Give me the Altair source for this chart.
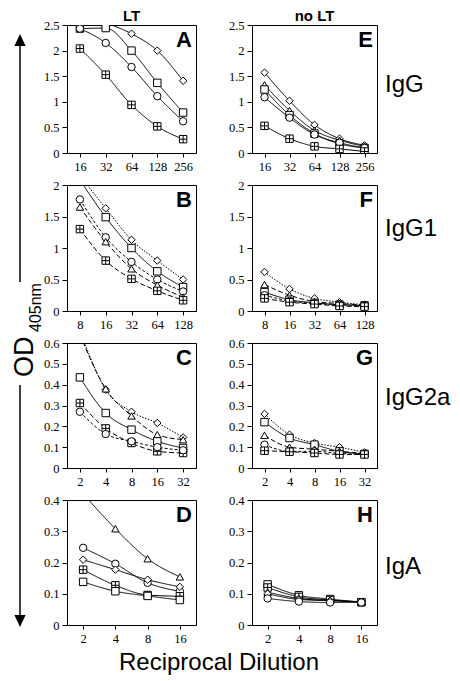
import altair as alt
import pandas as pd

# ---------------- data ----------------
SERIES = ["circle", "square", "diamond", "triangle", "xsquare"]
SHAPES = ["circle", "square", "diamond", "triangle-up",
          "M-1,-1H1V1H-1Z M0,-1V1 M-1,0H1"]
DASH_NAMES = ["solid", "dot", "dash", "dash2"]
DASH_RANGE = [[1, 0], [1.5, 1.5], [3, 2], [5, 2.5]]

X_IGG = ["16", "32", "64", "128", "256"]
X_IGG1 = ["8", "16", "32", "64", "128"]
X_IGG2A = ["2", "4", "8", "16", "32"]
X_IGA = ["2", "4", "8", "16"]

# A: LT, IgG
A_diamond = [2.80, 2.55, 2.33, 2.00, 1.41]
A_square = [2.43, 2.44, 2.00, 1.37, 0.79]
A_circle = [2.43, 2.15, 1.68, 1.11, 0.62]
A_xsquare = [2.04, 1.53, 0.94, 0.52, 0.27]
# E: no LT, IgG
E_diamond = [1.57, 1.02, 0.55, 0.28, 0.15]
E_triangle = [1.33, 0.83, 0.44, 0.25, 0.13]
E_square = [1.24, 0.74, 0.38, 0.18, 0.10]
E_circle = [1.09, 0.69, 0.36, 0.20, 0.10]
E_xsquare = [0.53, 0.28, 0.13, 0.08, 0.03]
# B: LT, IgG1
B_diamond = [2.15, 1.63, 1.13, 0.80, 0.50]
B_square = [2.08, 1.49, 1.00, 0.63, 0.38]
B_circle = [1.77, 1.17, 0.78, 0.50, 0.31]
B_triangle = [1.65, 1.10, 0.67, 0.41, 0.22]
B_xsquare = [1.30, 0.80, 0.51, 0.32, 0.17]
# F: no LT, IgG1
F_diamond = [0.62, 0.35, 0.20, 0.14, 0.10]
F_triangle = [0.42, 0.25, 0.15, 0.12, 0.09]
F_square = [0.30, 0.18, 0.13, 0.10, 0.09]
F_circle = [0.25, 0.16, 0.12, 0.10, 0.08]
F_xsquare = [0.20, 0.14, 0.11, 0.08, 0.07]
# C: LT, IgG2a
C_diamond = [0.66, 0.376, 0.27, 0.216, 0.147]
C_triangle = [0.64, 0.38, 0.25, 0.16, 0.136]
C_square = [0.435, 0.264, 0.184, 0.128, 0.096]
C_xsquare = [0.312, 0.19, 0.12, 0.08, 0.072]
C_circle = [0.27, 0.163, 0.128, 0.10, 0.085]
# G: no LT, IgG2a
G_diamond = [0.26, 0.16, 0.12, 0.10, 0.075]
G_square = [0.22, 0.144, 0.112, 0.08, 0.068]
G_triangle = [0.157, 0.10, 0.09, 0.08, 0.07]
G_circle = [0.112, 0.08, 0.08, 0.07, 0.065]
G_xsquare = [0.083, 0.078, 0.072, 0.065, 0.065]
# D: LT, IgA
D_triangle = [0.42, 0.308, 0.212, 0.154]
D_circle = [0.247, 0.196, 0.135, 0.108]
D_diamond = [0.209, 0.177, 0.145, 0.122]
D_xsquare = [0.177, 0.127, 0.096, 0.092]
D_square = [0.138, 0.108, 0.093, 0.080]
# H: no LT, IgA
H_square = [0.13, 0.095, 0.083, 0.073]
H_xsquare = [0.12, 0.09, 0.08, 0.073]
H_triangle = [0.105, 0.085, 0.078, 0.075]
H_diamond = [0.10, 0.082, 0.078, 0.074]
H_circle = [0.085, 0.075, 0.072, 0.072]

Y_25 = [0, 0.5, 1, 1.5, 2, 2.5]
Y_2 = [0, 0.5, 1, 1.5, 2]
Y_06 = [0, 0.1, 0.2, 0.3, 0.4, 0.5, 0.6]
Y_04 = [0, 0.1, 0.2, 0.3, 0.4]

SANS = "Liberation Sans, Arial, Helvetica, sans-serif"
SERIF = "Liberation Serif, Times New Roman, DejaVu Serif, serif"
W1, W2 = 129, 125


def txt(t, x, y, size, weight="normal", angle=0, align="left", baseline="alphabetic",
        font=SANS):
    kw = dict(align=align, baseline=baseline, fontSize=size, fontWeight=weight,
              font=font, color="black")
    if angle:
        kw["angle"] = angle
    return alt.Chart(pd.DataFrame({"t": [t]})).mark_text(**kw).encode(
        text="t:N", x=alt.value(x), y=alt.value(y))


def panel(letter, xcats, series, dashes, ytop, yticks, w, h, extras=()):
    rows = []
    for s, vals in series.items():
        for i, (xv, v) in enumerate(zip(xcats, vals)):
            rows.append({"dil": xv, "od": v, "series": s, "dash": dashes[s], "idx": i})
    df = pd.DataFrame(rows)
    X = alt.X("dil:O", scale=alt.Scale(type="point", padding=0.5, domain=xcats),
              axis=alt.Axis(title=None, labelAngle=0, tickSize=4, labelPadding=3,
                            labelFont=SERIF, labelFontSize=12.5, labelColor="black",
                            domainColor="black", tickColor="black"))
    Y = alt.Y("od:Q", scale=alt.Scale(domain=[0, ytop], nice=False, zero=True),
              axis=alt.Axis(title=None, values=yticks, format="~g", tickSize=5,
                            labelPadding=3, labelFont=SERIF, labelFontSize=12.5,
                            labelColor="black", domainColor="black", tickColor="black"))
    base = alt.Chart(df)
    lines = base.mark_line(interpolate="monotone", clip=True, color="black",
                           strokeWidth=1).encode(
        x=X, y=Y, detail="series:N",
        strokeDash=alt.StrokeDash("dash:N", scale=alt.Scale(domain=DASH_NAMES, range=DASH_RANGE),
                                  legend=None),
        order=alt.Order("idx:Q"))
    pts = base.mark_point(filled=True, fill="white", stroke="black", strokeWidth=1,
                          size=55, opacity=1, clip=True).encode(
        x=X, y=Y,
        shape=alt.Shape("series:N", scale=alt.Scale(domain=SERIES, range=SHAPES), legend=None))
    lab = txt(letter, w - 4, 22, 22, weight="bold", align="right")
    return alt.layer(lines, pts, lab, *extras).properties(width=w, height=h)


solid = lambda names: {n: "solid" for n in names}

# extras for panel A: column title, y-axis label and arrows
up = "M0,-1L0.7,0.5L-0.7,0.5Z"
down = "M0,1L0.7,-0.5L-0.7,-0.5Z"


def rule(x, y1, y2, opacity=1):
    return alt.Chart(pd.DataFrame({"a": [0]})).mark_rule(
        color="black", strokeWidth=1.5, opacity=opacity).encode(
        x=alt.value(x), y=alt.value(y1), y2=alt.value(y2))


def head(x, y, shape):
    return alt.Chart(pd.DataFrame({"a": [0]})).mark_point(
        shape=shape, filled=True, color="black", size=256, opacity=1).encode(
        x=alt.value(x), y=alt.value(y))


A_extras = [
    txt("LT", W1 / 2, -4, 15, weight="bold", align="center"),
    rule(-58.2, 300, 301, opacity=0),
    rule(-47, 18, 257), rule(-47, 360, 594),
    head(-47, 17, up), head(-47, 594, down),
    txt("OD", -34, 352, 27, angle=270),
    txt("405nm", -26, 307, 16, angle=270),
]

pA = panel("A", X_IGG, {"diamond": A_diamond, "square": A_square, "circle": A_circle,
                        "xsquare": A_xsquare},
           solid(["diamond", "square", "circle", "xsquare"]), 2.5, Y_25, W1, 128, A_extras)
pE = panel("E", X_IGG, {"diamond": E_diamond, "triangle": E_triangle, "square": E_square,
                        "circle": E_circle, "xsquare": E_xsquare},
           solid(SERIES), 2.5, Y_25, W2, 128,
           [txt("no LT", W2 / 2, -4, 15, weight="bold", align="center"),
            txt("IgG", 133, 67, 24)])
dB = {"diamond": "dot", "square": "solid", "circle": "dash", "triangle": "dash2", "xsquare": "dash2"}
pB = panel("B", X_IGG1, {"diamond": B_diamond, "square": B_square, "circle": B_circle,
                         "triangle": B_triangle, "xsquare": B_xsquare},
           dB, 2, Y_2, W1, 126)
pF = panel("F", X_IGG1, {"diamond": F_diamond, "triangle": F_triangle, "square": F_square,
                         "circle": F_circle, "xsquare": F_xsquare},
           dB, 2, Y_2, W2, 126, [txt("IgG1", 133, 51, 24)])
pC = panel("C", X_IGG2A, {"diamond": C_diamond, "triangle": C_triangle, "square": C_square,
                          "xsquare": C_xsquare, "circle": C_circle},
           dB, 0.6, Y_06, W1, 125)
pG = panel("G", X_IGG2A, {"diamond": G_diamond, "square": G_square, "triangle": G_triangle,
                          "circle": G_circle, "xsquare": G_xsquare},
           dB, 0.6, Y_06, W2, 125, [txt("IgG2a", 133, 62, 24)])
pD = panel("D", X_IGA, {"triangle": D_triangle, "circle": D_circle, "diamond": D_diamond,
                        "xsquare": D_xsquare, "square": D_square},
           solid(SERIES), 0.4, Y_04, W1, 125,
           [txt("Reciprocal Dilution", 152, 170, 24, align="center")])
pH = panel("H", X_IGA, {"square": H_square, "xsquare": H_xsquare, "triangle": H_triangle,
                        "diamond": H_diamond, "circle": H_circle},
           solid(SERIES), 0.4, Y_04, W2, 125, [txt("IgA", 133, 74, 24)])

chart = alt.concat(pA, pE, pB, pF, pC, pG, pD, pH, columns=2,
                   spacing={"row": 32, "column": 56}, bounds="flush").properties(
    padding=0
).configure_view(stroke="black", strokeWidth=1).configure_axis(
    domainColor="black", tickColor="black", labelColor="black", labelFont=SERIF,
    labelFontSize=12.5, grid=False, domainWidth=1, tickWidth=1)

chart.save("out.html", embed_options={"renderer": "svg", "actions": False})
